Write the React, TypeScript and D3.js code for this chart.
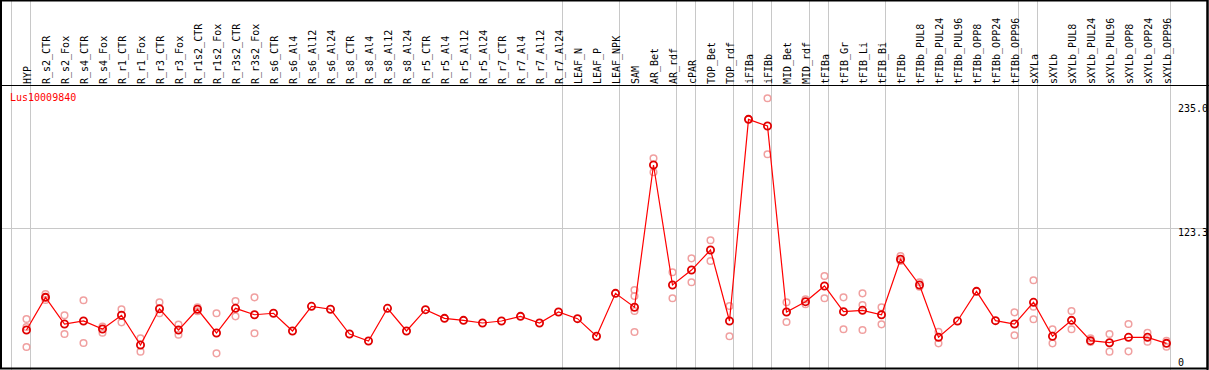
import React from 'react';
import * as d3 from 'd3';

const geneId = 'Lus10009840';

const samples = [
  'HYP', 'R_s2_CTR', 'R_s2_Fox', 'R_s4_CTR', 'R_s4_Fox', 'R_r1_CTR', 'R_r1_Fox', 'R_r3_CTR', 'R_r3_Fox',
  'R_r1s2_CTR', 'R_r1s2_Fox', 'R_r3s2_CTR', 'R_r3s2_Fox', 'R_s6_CTR', 'R_s6_Al4', 'R_s6_Al12', 'R_s6_Al24',
  'R_s8_CTR', 'R_s8_Al4', 'R_s8_Al12', 'R_s8_Al24', 'R_r5_CTR', 'R_r5_Al4', 'R_r5_Al12', 'R_r5_Al24',
  'R_r7_CTR', 'R_r7_Al4', 'R_r7_Al12', 'R_r7_Al24', 'LEAF_N', 'LEAF_P', 'LEAF_NPK', 'SAM', 'AR_Bet', 'AR_rdf',
  'cPAR', 'TOP_Bet', 'TOP_rdf', 'iFIBa', 'iFIBb', 'MID_Bet', 'MID_rdf', 'tFIBa', 'tFIB_Gr', 'tFIB_Li', 'tFIB_Bi',
  'tFIBb', 'tFIBb_PUL8', 'tFIBb_PUL24', 'tFIBb_PUL96', 'tFIBb_OPP8', 'tFIBb_OPP24', 'tFIBb_OPP96',
  'sXYLa', 'sXYLb', 'sXYLb_PUL8', 'sXYLb_PUL24', 'sXYLb_PUL96', 'sXYLb_OPP8', 'sXYLb_OPP24', 'sXYLb_OPP96',
];

// mean expression per sample
const means = [
  26.8, 57.8, 32.5, 35.4, 27.8, 40.8, 12.6, 47.0, 26.8,
  46.5, 24.0, 47.4, 41.3, 42.7, 25.9, 49.3, 46.5,
  23.0, 16.4, 47.4, 25.9, 46.1, 37.9, 36.0, 33.5,
  35.4, 39.8, 33.5, 43.9, 37.6, 20.9, 61.6, 48.4, 183.3, 69.5,
  83.7, 102.7, 35.4, 226.6, 220.3, 43.9, 53.7, 68.6, 44.2, 45.5, 41.3,
  93.9, 69.5, 19.9, 35.4, 63.5, 35.7, 32.5,
  53.1, 20.9, 36.0, 16.7, 14.8, 19.9, 19.9, 14.2,
];

// replicate values per sample
const replicates = [
  [37.3, 29.7, 10.7], [61.0, 58.1, 55.3], [40.8, 23.0], [55.0, 14.5], [30.0, 24.3], [46.5, 34.1], [19.0, 6.3], [53.1, 42.7], [31.9, 22.4],
  [48.4, 44.6], [42.7, 4.7], [54.3, 39.8], [57.8, 23.7], [], [], [], [],
  [], [], [], [], [], [], [], [],
  [], [], [], [], [], [], [], [64.8, 59.1, 44.9, 24.9], [189.7, 176.4], [81.6, 56.9],
  [94.8, 72.1], [111.9, 92.3], [49.6, 20.9], [226.6], [246.6, 193.5], [53.1, 34.4], [55.9, 51.2], [78.0, 56.9], [57.8, 27.5], [61.6, 50.5, 26.8], [48.4, 32.2],
  [97.0, 92.3], [72.1, 67.9], [25.2, 14.2], [], [], [], [43.6, 21.8],
  [74.0, 48.9, 37.0], [27.5, 14.2], [44.9, 27.5], [19.0, 15.5], [23.0, 6.3], [32.5, 6.6], [24.3, 15.7], [16.7, 11.0],
];

// separators drawn after these sample indices (-1 = before first)
const groupEnds = [-1, 0, 28, 31, 34, 35, 37, 38, 39, 41, 42, 45, 52, 53, 60];

const yTickValues = [0, 123.3, 235];
const yTickLabels = ['0', '123.3', '235.0'];

const W = 1209;
const H = 370;
const mono = '"DejaVu Sans Mono", monospace';

export default function App() {
  const x = d3.scaleBand<string>().domain(samples).range([11.5, 11.5 + 19 * samples.length]);
  const y = d3.scaleLinear().domain([0, 235]).range([358.3, 110.5]);
  const px = (s: string) => (x(s) as number) + 15;

  const line = d3.line<number>()
    .x((_, i) => px(samples[i]))
    .y(d => y(d));

  const sepX = (i: number) => 11.5 + 19 * (i + 1);

  return (
    <svg width={W} height={H} style={{ position: 'fixed', left: 0, top: 0, display: 'block', background: '#fff' }}>
      {/* group separators */}
      {groupEnds.map(i => (
        <line key={i} x1={sepX(i)} x2={sepX(i)} y1={0} y2={H} stroke="#c8c8c8" strokeWidth={1} />
      ))}
      {/* mid grid line */}
      <line x1={1} x2={1207} y1={Math.round(y(123.3)) + 0.5} y2={Math.round(y(123.3)) + 0.5} stroke="#c8c8c8" />

      {/* frame */}
      <rect x={1} y={0.5} width={1206.5} height={368} fill="none" stroke="#000" strokeWidth={2} />
      <line x1={0} x2={W} y1={85.5} y2={85.5} stroke="#000" strokeWidth={1} />

      {/* sample labels */}
      {samples.map(s => (
        <text key={s} transform={`translate(${px(s) + 4},84) rotate(-90)`} fontFamily={mono} fontSize={10} fill="#000">
          {s}
        </text>
      ))}

      <text x={10} y={101} fontFamily={mono} fontSize={10} fill="#ff0000">{geneId}</text>

      {/* y labels */}
      {yTickValues.map((v, i) => (
        <text key={v} x={1178} y={(i === 2 ? y(v) - 7 : y(v)) + 8} fontFamily={mono} fontSize={10} fill="#000">
          {yTickLabels[i]}
        </text>
      ))}

      {/* replicates */}
      {replicates.map((reps, i) => reps.map((v, j) => (
        <circle key={`${i}-${j}`} cx={px(samples[i])} cy={y(v)} r={3.3} fill="none" stroke="#f0a0a0" strokeWidth={1.5} />
      )))}

      <path d={line(means) || ''} fill="none" stroke="#ff0000" strokeWidth={1.2} />

      {means.map((v, i) => (
        <circle key={i} cx={px(samples[i])} cy={y(v)} r={3.6} fill="none" stroke="#e00000" strokeWidth={1.8} />
      ))}

      {/* border overlays text on right */}
      <line x1={1207.5} x2={1207.5} y1={0} y2={H} stroke="#000" strokeWidth={2} />
    </svg>
  );
}
